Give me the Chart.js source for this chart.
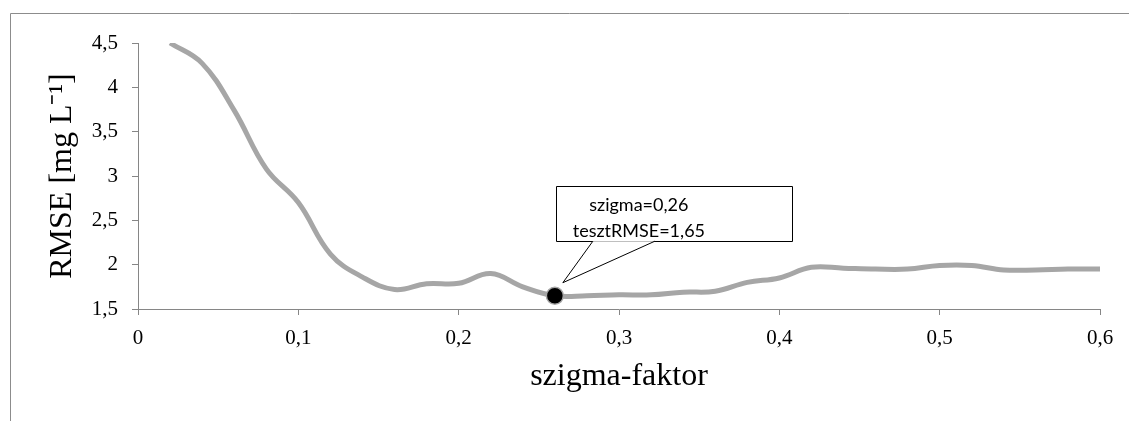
<!DOCTYPE html>
<html>
<head>
<meta charset="utf-8">
<script src="https://cdn.jsdelivr.net/npm/chart.js@4.4.1/dist/chart.umd.min.js"></script>
<style>
    html, body { margin: 0; padding: 0; background: #fff; }
    #wrap { width: 1129px; height: 421px; }
</style>
</head>
<body>
<div id="wrap"><canvas id="rmseChart" width="1129" height="421"></canvas></div>
<script>
// szigma-faktor values and the test RMSE for each
const sigma = [0.02, 0.04, 0.06, 0.08, 0.10, 0.12, 0.14, 0.16, 0.18, 0.20,
               0.22, 0.24, 0.26, 0.28, 0.30, 0.32, 0.34, 0.36, 0.38, 0.40,
               0.42, 0.44, 0.46, 0.48, 0.50, 0.52, 0.54, 0.56, 0.58, 0.60];
const rmse = [4.50, 4.27, 3.74, 3.08, 2.70, 2.12, 1.86, 1.72, 1.785, 1.79,
              1.90, 1.75, 1.65, 1.65, 1.66, 1.66, 1.69, 1.70, 1.80, 1.85,
              1.97, 1.96, 1.95, 1.95, 1.99, 1.99, 1.94, 1.94, 1.95, 1.95];

// optimum marked on the curve
const bestSigma = 0.26;
const bestRmse = 1.65;

const xTickLabels = ['0', '0,1', '0,2', '0,3', '0,4', '0,5', '0,6'];
const yTickLabels = ['1,5', '2', '2,5', '3', '3,5', '4', '4,5'];

const axisGray = '#868686';
const lineGray = '#a6a6a6';

const fmt = v => String(v).replace('.', ',');

// grey frame along the top and left edge
const framePlugin = {
    id: 'frame',
    beforeDraw(chart) {
        const ctx = chart.ctx;
        ctx.save();
        ctx.strokeStyle = '#8c8c8c';
        ctx.lineWidth = 1;
        ctx.beginPath();
        ctx.moveTo(10.5, chart.height);
        ctx.lineTo(10.5, 13.5);
        ctx.lineTo(chart.width, 13.5);
        ctx.stroke();
        ctx.restore();
    }
};

// callout box pointing at the optimum
const calloutPlugin = {
    id: 'callout',
    afterDatasetsDraw(chart) {
        const {ctx, scales} = chart;
        const px = scales.x.getPixelForValue(bestSigma);
        const py = scales.y.getPixelForValue(bestRmse);

        const left = px + 1, right = px + 237;
        const top = py - 110, bottom = py - 55;

        ctx.save();
        ctx.lineWidth = 1;
        ctx.strokeStyle = '#000';
        ctx.fillStyle = '#fff';

        ctx.beginPath();
        ctx.rect(Math.round(left) + 0.5, Math.round(top) + 0.5, right - left, bottom - top);
        ctx.fill();
        ctx.stroke();

        // pointer
        ctx.beginPath();
        ctx.moveTo(px + 38, bottom + 0.5);
        ctx.lineTo(px + 8, py - 13);
        ctx.lineTo(px + 100, bottom + 0.5);
        ctx.fill();
        ctx.stroke();

        ctx.fillStyle = '#000';
        ctx.font = '18px Lato, "Open Sans", sans-serif';
        ctx.textAlign = 'center';
        ctx.textBaseline = 'alphabetic';
        ctx.fillText('szigma=' + fmt(bestSigma), px + 84, py - 85);
        ctx.fillText('tesztRMSE=' + fmt(bestRmse), px + 84, py - 59);
        ctx.restore();
    }
};

new Chart(document.getElementById('rmseChart'), {
    type: 'line',
    data: {
        datasets: [{
            data: [{x: bestSigma, y: bestRmse}],
            order: 0,
            showLine: false,
            pointRadius: 8.5,
            pointBackgroundColor: '#000',
            pointBorderColor: lineGray,
            pointBorderWidth: 1.5
        }, {
            data: sigma.map((s, i) => ({x: s, y: rmse[i]})),
            order: 1,
            borderColor: lineGray,
            borderWidth: 5,
            tension: 0.4,
            pointRadius: 0,
            fill: false
        }]
    },
    options: {
        responsive: false,
        animation: false,
        layout: {
            padding: {top: 43, right: 29, left: 0, bottom: 0}
        },
        plugins: {
            legend: {display: false},
            tooltip: {enabled: false}
        },
        scales: {
            x: {
                type: 'linear',
                min: 0,
                max: 0.6,
                afterFit: scale => { scale.height = 112; },
                ticks: {
                    stepSize: 0.1,
                    padding: 11,
                    color: '#000',
                    font: {family: '"Liberation Serif", "Times New Roman", serif', size: 21},
                    callback: v => xTickLabels[Math.round(v * 10)]
                },
                grid: {drawOnChartArea: false, tickLength: 6, color: axisGray},
                border: {color: axisGray},
                title: {
                    display: true,
                    text: 'szigma-faktor',
                    color: '#000',
                    font: {family: '"Liberation Serif", "Times New Roman", serif', size: 32},
                    padding: {top: 0, bottom: 25}
                }
            },
            y: {
                min: 1.5,
                max: 4.5,
                afterFit: scale => { scale.width = 138; },
                ticks: {
                    stepSize: 0.5,
                    padding: 14,
                    color: '#000',
                    font: {family: '"Liberation Serif", "Times New Roman", serif', size: 21},
                    callback: v => yTickLabels[Math.round((v - 1.5) * 2)]
                },
                grid: {drawOnChartArea: false, tickLength: 6, color: axisGray},
                border: {color: axisGray},
                title: {
                    display: true,
                    text: 'RMSE [mg L\u207B\u00B9]',
                    color: '#000',
                    font: {family: '"Liberation Serif", "Times New Roman", serif', size: 32},
                    padding: {top: 43, bottom: 0}
                }
            }
        }
    },
    plugins: [framePlugin, calloutPlugin]
});
</script>
</body>
</html>
